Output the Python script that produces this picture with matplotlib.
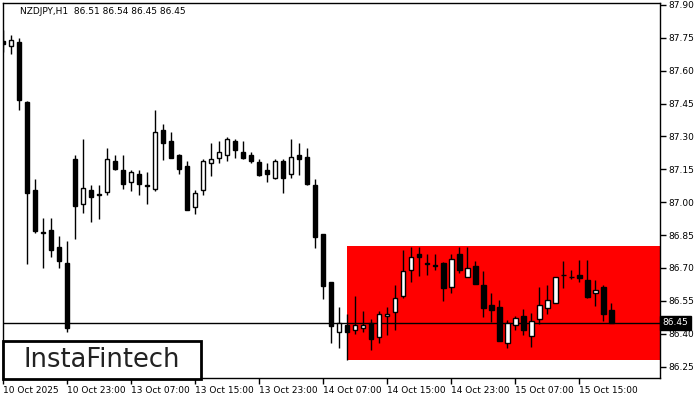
import matplotlib
matplotlib.use("Agg")
import matplotlib.pyplot as plt
from matplotlib.patches import Rectangle
import matplotlib.transforms as mtransforms

# NZDJPY H1 candles
opens = [87.736, 87.714, 87.730, 87.457, 87.055, 86.862, 86.873, 86.795, 86.721, 87.197,
         86.993, 87.055, 87.036, 87.045, 87.188, 87.145, 87.093, 87.128, 87.077, 87.061,
         87.328, 87.278, 87.214, 87.164, 86.976, 87.054, 87.177, 87.203, 87.214, 87.278,
         87.227, 87.214, 87.185, 87.145, 87.111, 87.186, 87.127, 87.214, 87.205, 87.077,
         86.853, 86.635, 86.410, 86.439, 86.419, 86.427, 86.448, 86.387, 86.479, 86.501,
         86.570, 86.689, 86.762, 86.721, 86.713, 86.721, 86.611, 86.762, 86.661, 86.711,
         86.621, 86.530, 86.521, 86.358, 86.442, 86.479, 86.390, 86.469, 86.518, 86.541,
         86.670, 86.661, 86.670, 86.643, 86.584, 86.612, 86.51]
highs = [87.786, 87.763, 87.751, 87.460, 87.105, 86.927, 86.927, 86.845, 86.822, 87.215,
         87.288, 87.078, 87.078, 87.247, 87.215, 87.215, 87.147, 87.147, 87.137, 87.421,
         87.357, 87.319, 87.220, 87.186, 87.055, 87.195, 87.268, 87.278, 87.296, 87.287,
         87.278, 87.227, 87.195, 87.177, 87.195, 87.195, 87.287, 87.268, 87.246, 87.104,
         86.856, 86.638, 86.521, 86.488, 86.570, 86.503, 86.468, 86.503, 86.521, 86.621,
         86.784, 86.795, 86.795, 86.762, 86.762, 86.728, 86.762, 86.795, 86.795, 86.731,
         86.684, 86.585, 86.552, 86.462, 86.479, 86.512, 86.494, 86.612, 86.621, 86.661,
         86.731, 86.693, 86.736, 86.736, 86.643, 86.621, 86.54]
lows = [87.685, 87.678, 87.419, 86.719, 86.860, 86.700, 86.751, 86.700, 86.408, 86.833,
        86.950, 86.911, 86.924, 87.034, 87.148, 87.061, 87.051, 87.034, 86.991, 87.052,
        87.194, 87.200, 87.127, 86.963, 86.944, 87.034, 87.120, 87.177, 87.186, 87.203,
        87.195, 87.177, 87.120, 87.093, 87.108, 87.043, 87.111, 87.125, 87.080, 86.792,
        86.559, 86.357, 86.335, 86.279, 86.399, 86.410, 86.326, 86.357, 86.394, 86.416,
        86.561, 86.635, 86.663, 86.670, 86.693, 86.550, 86.585, 86.676, 86.658, 86.625,
        86.477, 86.455, 86.365, 86.335, 86.417, 86.394, 86.340, 86.443, 86.491, 86.538,
        86.609, 86.650, 86.635, 86.561, 86.527, 86.460, 86.45]
closes = [87.722, 87.739, 87.468, 87.043, 86.869, 86.860, 86.783, 86.732, 86.427, 86.982,
          87.063, 87.025, 87.034, 87.195, 87.153, 87.084, 87.137, 87.084, 87.075, 87.319,
          87.269, 87.203, 87.153, 86.963, 87.043, 87.186, 87.195, 87.227, 87.287, 87.237,
          87.203, 87.186, 87.125, 87.127, 87.186, 87.111, 87.205, 87.195, 87.084, 86.842,
          86.618, 86.436, 86.451, 86.408, 86.442, 86.442, 86.376, 86.488, 86.492, 86.561,
          86.684, 86.752, 86.751, 86.719, 86.711, 86.609, 86.743, 86.689, 86.702, 86.629,
          86.518, 86.509, 86.367, 86.447, 86.470, 86.417, 86.460, 86.529, 86.552, 86.661,
          86.668, 86.661, 86.652, 86.569, 86.600, 86.491, 86.45]

x_tick_bars = [0, 8, 16, 24, 32, 40, 48, 56, 64, 72]
x_tick_labels = ["10 Oct 2025", "10 Oct 23:00", "13 Oct 07:00", "13 Oct 15:00",
                 "13 Oct 23:00", "14 Oct 07:00", "14 Oct 15:00", "14 Oct 23:00",
                 "15 Oct 07:00", "15 Oct 15:00"]
y_ticks = [87.90, 87.75, 87.60, 87.45, 87.30, 87.15, 87.00, 86.85, 86.70, 86.55, 86.40, 86.25]

last_price = 86.45
zone_start_bar = 43
zone_low, zone_high = 86.28, 86.80
title = "NZDJPY,H1  86.51 86.54 86.45 86.45"

fig = plt.figure(figsize=(7, 4), dpi=100)
ax = fig.add_axes([2.5 / 700, 22 / 400, 657.5 / 700, 375 / 400])

ax.set_xlim(-0.05, 82.1)
ax.set_ylim(86.198, 87.909)

# red zone
ax.add_patch(Rectangle((zone_start_bar, zone_low), 100, zone_high - zone_low,
                       facecolor="#ff0000", edgecolor="none", zorder=1))

# current price line
ax.axhline(last_price, color="black", lw=1, zorder=2)

w = 0.6
for i, (o, h, l, c) in enumerate(zip(opens, highs, lows, closes)):
    ax.vlines(i, l, h, color="black", lw=1, zorder=3)
    bull = c >= o
    ax.add_patch(Rectangle((i - w / 2, min(o, c)), w, abs(c - o),
                           facecolor="white" if bull else "black",
                           edgecolor="black", lw=1, zorder=4))

# axes styling
for s in ax.spines.values():
    s.set_color("black")
    s.set_linewidth(1)

ax.yaxis.tick_right()
ax.set_yticks(y_ticks)
ax.set_yticklabels([f"{v:.2f}" for v in y_ticks])
ax.set_xticks(x_tick_bars)
ax.set_xticklabels(x_tick_labels)
ax.tick_params(axis="both", labelsize=6.5, length=4, width=1, colors="black", pad=2)
for lbl in ax.get_xticklabels():
    lbl.set_horizontalalignment("left")

# last price tag on the right axis
trans = mtransforms.blended_transform_factory(ax.transAxes, ax.transData)
ax.text(1.004, last_price, "86.45", transform=trans, fontsize=6.5, color="white",
        va="center", ha="left",
        bbox=dict(boxstyle="square,pad=0.25", facecolor="black", edgecolor="black"))

ax.text(18 / 657.5, 0.978, title, transform=ax.transAxes, fontsize=6.5,
        color="black", va="center", ha="left")

# logo box
fig.patches.append(Rectangle((3 / 700, 21 / 400), 198 / 700, 38 / 400,
                             transform=fig.transFigure, facecolor="white",
                             edgecolor="black", lw=2, zorder=10))
fig.text(102 / 700, 40 / 400, "InstaFintech", fontsize=18.5, color="#222222",
         ha="center", va="center", zorder=11)

fig.savefig("out.png", dpi=100)
